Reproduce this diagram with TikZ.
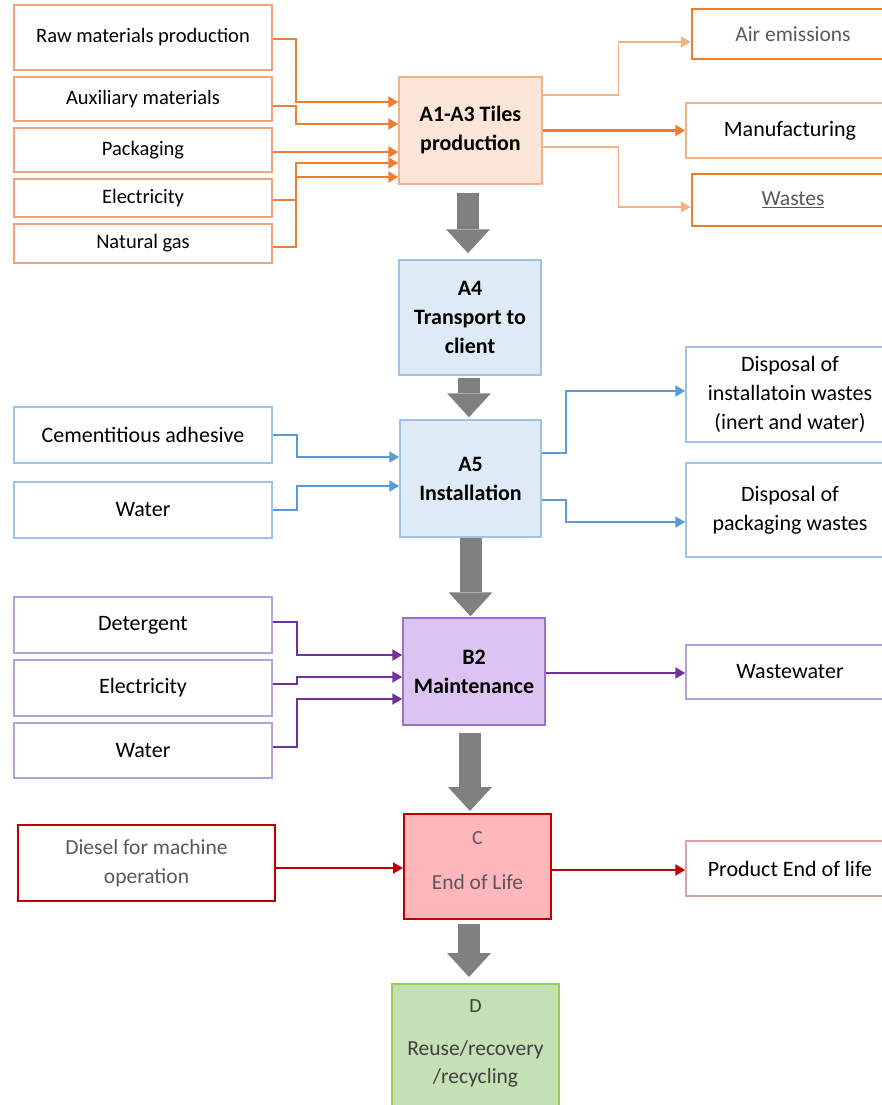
\documentclass[tikz,border=0pt]{standalone}
\usepackage{fontspec}
\setmainfont{Carlito}
\usetikzlibrary{arrows.meta}
\definecolor{or}{HTML}{ED7D31}
\definecolor{orl}{HTML}{F4B183}
\definecolor{orb}{HTML}{F2A477}
\definecolor{orf}{HTML}{FBE5D6}
\definecolor{bl}{HTML}{5B9BD5}
\definecolor{bll}{HTML}{9DC3E6}
\definecolor{blf}{HTML}{DEEBF7}
\definecolor{pu}{HTML}{7030A0}
\definecolor{pul}{HTML}{B7A0D6}
\definecolor{pub}{HTML}{9B72C8}
\definecolor{puf}{HTML}{DCC4F2}
\definecolor{rd}{HTML}{C00000}
\definecolor{rdl}{HTML}{E0A0A0}
\definecolor{rdf}{HTML}{FFB7BC}
\definecolor{gn}{HTML}{92D050}
\definecolor{gnf}{HTML}{C5E0B4}
\definecolor{gy}{HTML}{808080}
\definecolor{tg}{HTML}{595959}
\begin{document}
\begin{tikzpicture}[x=1pt,y=-1pt,
  box/.style={draw, rectangle, inner sep=0pt, align=center, font=\fontsize{22}{29}\selectfont},
  lbox/.style={box, draw=orb, line width=1.5pt, minimum width=258pt, font=\fontsize{20.5}{27}\selectfont},
  bbox/.style={box, draw=bll, line width=1.5pt},
  pbox/.style={box, draw=pul, line width=1.5pt},
  stage/.style={box, line width=1.5pt, font=\bfseries\fontsize{22}{29}\selectfont},
  oarr/.style={draw=or, line width=2.4pt, -{Triangle[length=10pt,width=11pt]}},
  oarrthin/.style={draw=orl, line width=1.2pt, -{Triangle[length=10pt,width=11pt]}},
  barr/.style={draw=bl, line width=2pt, -{Triangle[length=10pt,width=11pt]}},
  parr/.style={draw=pu, line width=2pt, -{Triangle[length=10pt,width=11pt]}},
  rarr/.style={draw=rd, line width=2pt, -{Triangle[length=10pt,width=11pt]}},
  bigarr/.style={draw=gy, line width=22pt, -{Triangle[length=24pt,width=44pt,line width=0pt]}},
  lighttext/.style={text=tg, font=\fontsize{21.5}{29}\selectfont}
]
\useasboundingbox (0,0) rectangle (882,1105);
\fill[white] (0,0) rectangle (882,1105);
\clip (0,0) rectangle (882,1105);

% ---------- A1-A3 block ----------
\node[lbox, minimum height=65pt] (raw)  at (143,37.5) {Raw materials production};
\node[lbox, minimum height=44pt] (aux)  at (143,99)   {Auxiliary materials};
\node[lbox, minimum height=44pt] (pack) at (143,150)  {Packaging};
\node[lbox, minimum height=38pt] (el1)  at (143,198)  {Electricity};
\node[lbox, minimum height=39pt] (gas)  at (143,243.5){Natural gas};

\node[stage, draw=orl, fill=orf, minimum width=143pt, minimum height=107pt] (a1) at (470.5,130.5) {A1-A3 Tiles\\production};

\node[box, draw=or, line width=2.5pt, minimum width=202pt, minimum height=50pt, lighttext] (air) at (793,34) {Air emissions};
\node[box, draw=orl, line width=1.5pt, minimum width=208pt, minimum height=55pt] (man) at (790,130.5) {Manufacturing};
\node[box, draw=or, line width=2.5pt, minimum width=202pt, minimum height=52pt, lighttext] (wst) at (793,200) {\underline{Wastes}};

\draw[oarr] ([yshift=-1.5pt]raw.east) -- ++(23,0) |- ([yshift=28.5pt]a1.west);
\draw[oarr] ([yshift=-7pt]aux.east) -- ++(23,0) |- ([yshift=6.5pt]a1.west);
\draw[oarr] ([yshift=-2pt]pack.east) -- ([yshift=-2pt]pack.east -| a1.west);
\draw[oarr] ([yshift=-2pt]el1.east) -- ++(23,0) |- ([yshift=-46.5pt]a1.west);
\draw[oarr] ([yshift=-3.5pt]gas.east) -- ++(23,0) |- ([yshift=-32.5pt]a1.west);

\draw[oarrthin] ([yshift=35.5pt]a1.east) -- ++(76,0) |- ([yshift=-8pt]air.west);
\draw[oarr, line width=2.6pt] (a1.east) -- (a1.east -| man.west);
\draw[oarrthin] ([yshift=-16.5pt]a1.east) -- ++(76,0) |- ([yshift=-7pt]wst.west);

% ---------- A4 ----------
\node[stage, draw=bll, fill=blf, minimum width=142pt, minimum height=115pt] (a4) at (470,317.5) {A4\\Transport to\\client};

% ---------- A5 ----------
\node[bbox, minimum width=258pt, minimum height=56pt] (cem)  at (143,435) {Cementitious adhesive};
\node[bbox, minimum width=258pt, minimum height=56pt] (wat1) at (143,510) {Water};
\node[stage, draw=bll, fill=blf, minimum width=141pt, minimum height=117pt] (a5) at (470.5,478.5) {A5\\Installation};
\node[bbox, minimum width=208pt, minimum height=95pt] (dis1) at (790,394.5) {Disposal of\\installatoin wastes\\(inert and water)};
\node[bbox, minimum width=208pt, minimum height=94pt] (dis2) at (790,510) {Disposal of\\packaging wastes};

\draw[barr] (cem.east) -- ++(24,0) |- ([yshift=21.5pt]a5.west);
\draw[barr] (wat1.east) -- ++(24,0) |- ([yshift=-7.5pt]a5.west);
\draw[barr] ([yshift=25.5pt]a5.east) -- ++(24,0) |- ([yshift=3.5pt]dis1.west);
\draw[barr] ([yshift=-21.5pt]a5.east) -- ++(24,0) |- ([yshift=-12pt]dis2.west);

% ---------- B2 ----------
\node[pbox, minimum width=258pt, minimum height=56pt] (det)  at (143,625) {Detergent};
\node[pbox, minimum width=258pt, minimum height=56pt] (el2)  at (143,688) {Electricity};
\node[pbox, minimum width=258pt, minimum height=55pt] (wat2) at (143,750.5) {Water};
\node[stage, draw=pub, fill=puf, minimum width=142pt, minimum height=107pt] (b2) at (474,671.5) {B2\\Maintenance};
\node[pbox, minimum width=208pt, minimum height=54pt] (ww) at (790,672) {Wastewater};

\draw[parr] ([yshift=3pt]det.east) -- ++(24,0) |- ([yshift=16.5pt]b2.west);
\draw[parr] ([yshift=4pt]el2.east) -- ++(24,0) |- ([yshift=-5.5pt]b2.west);
\draw[parr] ([yshift=3.5pt]wat2.east) -- ++(24,0) |- ([yshift=-27.5pt]b2.west);
\draw[parr] ([yshift=-1.5pt]b2.east) -- ([yshift=-1.5pt]b2.east -| ww.west);

% ---------- C ----------
\node[box, draw=rd, line width=2pt, minimum width=257pt, minimum height=76pt, lighttext] (dsl) at (146.5,863) {Diesel for machine\\operation};
\node[box, draw=rd, line width=2pt, fill=rdf, minimum width=147pt, minimum height=105pt] (c) at (477.5,866.5) {};
\node[lighttext, font=\fontsize{20}{26}\selectfont] (ct1) at (477.5,838) {C};
\node[lighttext] (ct2) at (477.5,882) {End of Life};
\node[box, draw=rdl, line width=1.5pt, minimum width=208pt, minimum height=55pt] (prod) at (790,868.5) {Product End of life};

\draw[rarr] ([yshift=-5pt]dsl.east) -- ([yshift=-5pt]dsl.east -| c.west);
\draw[rarr, line width=2.6pt] ([yshift=-3.5pt]c.east) -- ([yshift=-3.5pt]c.east -| prod.west);

% ---------- D ----------
\node[box, draw=gn, line width=2pt, fill=gnf, minimum width=167pt, minimum height=123pt] (d) at (475.5,1045.5) {};
\node[text=black!75, font=\fontsize{20}{26}\selectfont] (dt1) at (475.5,1006) {D};
\node[text=black!75, font=\fontsize{21.5}{28}\selectfont, align=center] (dt2) at (475.5,1064) {Reuse/recovery\\/recycling};

% ---------- big grey arrows ----------
\draw[bigarr] ([xshift=-2.5pt,yshift=-8pt]a1.south) -- ([xshift=-2pt,yshift=6pt]a4.north);
\draw[bigarr] ([xshift=-1pt,yshift=-2pt]a4.south) -- ([xshift=-1.5pt,yshift=2pt]a5.north);
\draw[bigarr] ([xshift=0pt,yshift=0pt]a5.south) -- ([xshift=-3.5pt,yshift=1pt]b2.north);
\draw[bigarr] ([xshift=-4pt,yshift=-7pt]b2.south) -- ([xshift=-7.5pt,yshift=2pt]c.north);
\draw[bigarr] ([xshift=-8.5pt,yshift=-4pt]c.south) -- ([xshift=-6.5pt,yshift=6pt]d.north);
\end{tikzpicture}
\end{document}
